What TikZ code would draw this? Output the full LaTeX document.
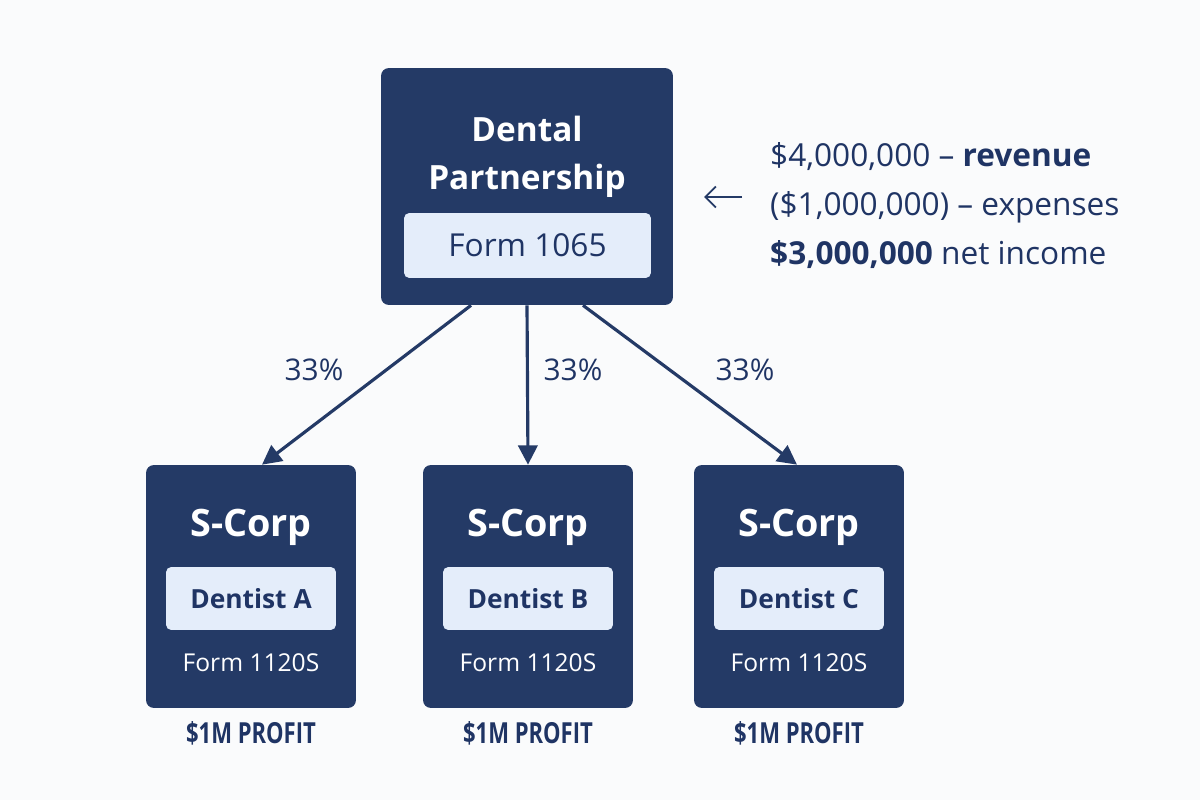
\documentclass[tikz,border=0pt]{standalone}
\usepackage{fontspec}
\usepackage{tikz}
\usetikzlibrary{arrows.meta}
\setmainfont{Open Sans}
\newfontfamily\condfont[FakeStretch=0.76]{Open Sans}
\definecolor{navy}{HTML}{243A66}
\definecolor{pale}{HTML}{E4EDFA}
\definecolor{ink}{HTML}{1F3464}
\definecolor{paper}{HTML}{FAFBFC}

\begin{document}
\begin{tikzpicture}[x=0.02cm, y=-0.02cm,
	corpbox/.style={fill=navy, rounded corners=4.5pt, minimum width=4.2cm, minimum height=4.86cm},
	formbox/.style={fill=pale, rounded corners=3pt, text=ink, minimum height=1.26cm},
	share/.style={draw=navy, line width=1.8pt, -{Triangle[length=11pt, width=11pt]}},
	pct/.style={text=ink, font=\fontsize{17}{20}\selectfont},
	sumline/.style={text=ink, anchor=west, font=\fontsize{18}{22}\selectfont}]
	\newcommand\rowA{527}
	\newcommand\rowB{598.5}
	\newcommand\rowC{663}
	
	\fill[paper] (0,0) rectangle (1200,800);
	\useasboundingbox (0,0) rectangle (1200,800);
	
	% partnership
	\node[corpbox, minimum width=5.84cm, minimum height=4.74cm] (top) at (527,186.5) {};
	\node[text=white, align=center, font=\bfseries\fontsize{19}{27}\selectfont] (topname) at (527,157) {Dental\\Partnership};
	\node[formbox, minimum width=4.94cm, minimum height=1.3cm, font=\fontsize{18}{22}\selectfont] (topform) at (527.5,245.5) {Form 1065};
	
	% income statement
	\node[sumline] (rev) at (764,157) {\$4,000,000 -- \textbf{revenue}};
	\node[sumline] (exp) at (764,207) {(\$1,000,000) -- expenses};
	\node[sumline] (net) at (764,255) {\textbf{\$3,000,000} net income};
	\coordinate (arrS) at (742,197);
	\coordinate (arrE) at (704,197);
	\draw[navy, line width=1.1pt, -{Straight Barb[length=6pt, width=12pt]}] (arrS) -- (arrE);
	
	% s-corps
	\foreach \x/\n in {251/A, 528/B, 799/C}{
		\node[corpbox] (s\n) at (\x,586.5) {};
		\node[text=white, font=\bfseries\fontsize{21.5}{24}\selectfont] (s\n title) at (\x,\rowA) {S-Corp};
		\node[formbox, minimum width=3.4cm, font=\bfseries\fontsize{15}{18}\selectfont] (s\n owner) at (\x,\rowB) {Dentist \n};
		\node[text=white, font=\fontsize{14}{17}\selectfont] (s\n form) at (\x,\rowC) {Form 1120S};
		\node[text=ink, font=\condfont\bfseries\fontsize{16.5}{18}\selectfont] (s\n profit) at (\x,733) {\$1M PROFIT};
	}
	
	\draw[share] ([xshift=-1.12cm]top.south) -- ([xshift=0.22cm]sA.north);
	\draw[share] (top.south) -- (sB.north);
	\draw[share] ([xshift=1.12cm]top.south) -- ([xshift=-0.04cm]sC.north);
	
	\node[pct] (pA) at (314,370) {33\%};
	\node[pct] (pB) at (573,370) {33\%};
	\node[pct] (pC) at (745,370) {33\%};
\end{tikzpicture}
\end{document}
